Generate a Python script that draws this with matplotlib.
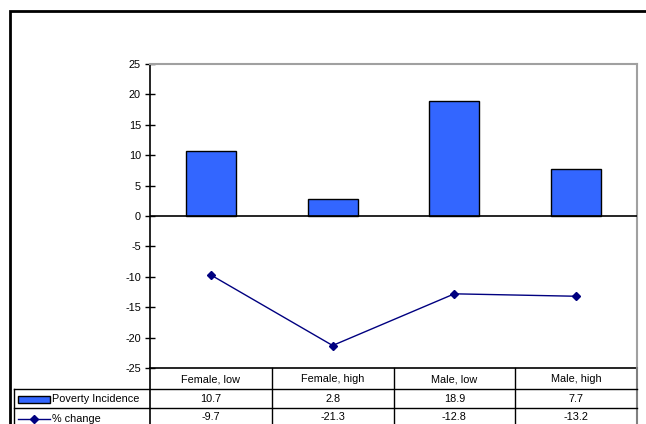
import numpy as np
import matplotlib.pyplot as plt

plt.rcParams['font.family'] = ['Liberation Sans', 'DejaVu Sans']
plt.rcParams['axes.unicode_minus'] = False

# data
categories = ['Female, low', 'Female, high', 'Male, low', 'Male, high']
poverty = [10.7, 2.8, 18.9, 7.7]
pct_change = [-9.7, -21.3, -12.8, -13.2]
bar_color = '#3366ff'
line_color = '#000080'

W, H = 646, 424
fs = 7.8
fig = plt.figure(figsize=(W / 100, H / 100), dpi=100)

# plot area in pixels
px_l, px_r, px_t, px_b = 150, 637, 64, 368
ax = fig.add_axes([px_l / W, (H - px_b) / H, (px_r - px_l) / W, (px_b - px_t) / H])

x = np.arange(len(categories))
ax.bar(x, poverty, width=0.41, color=bar_color, edgecolor='black', linewidth=1, zorder=3)
ax.plot(x, pct_change, color=line_color, linewidth=1, marker='D', markersize=4, zorder=4)
ax.axhline(0, color='black', linewidth=1.2, zorder=5)

ax.set_xlim(-0.5, len(categories) - 0.5)
ax.set_ylim(-25, 25)
ax.set_yticks(np.arange(-25, 26, 5))
ax.set_xticks([])
ax.tick_params(axis='y', direction='inout', length=7, width=1, labelsize=fs, pad=3)
ax.spines['left'].set_color('black')
ax.spines['left'].set_linewidth(1.2)
ax.spines['bottom'].set_color('black')
ax.spines['bottom'].set_linewidth(1.2)
ax.spines['top'].set_color('#a0a0a0')
ax.spines['right'].set_color('#a0a0a0')
ax.spines['top'].set_linewidth(1.5)
ax.spines['right'].set_linewidth(1.5)

# overlay in pixel coordinates for table and frame
ov = fig.add_axes([0, 0, 1, 1])
ov.set_xlim(0, W)
ov.set_ylim(H, 0)
ov.axis('off')
ov.patch.set_alpha(0)

# outer frame
ov.plot([10, 10, W], [H + 5, 11, 11], color='black', linewidth=2, solid_joinstyle='miter')

# table
n = len(categories)
col_w = (px_r - px_l) / n
edges = [px_l + i * col_w for i in range(n + 1)]
row_y = [px_b, 389, 408, H + 5]
lab_l = 14

for e in edges[1:-1]:
    ov.plot([e, e], [px_b, H + 5], color='black', linewidth=1)
ov.plot([px_l, px_l], [px_b, H + 5], color='black', linewidth=1.2)
ov.plot([px_r, px_r], [px_b, H + 5], color='#808080', linewidth=1.5)
ov.plot([lab_l, lab_l], [row_y[1], H + 5], color='black', linewidth=1)
ov.plot([lab_l, px_r], [row_y[1], row_y[1]], color='black', linewidth=1)
ov.plot([lab_l, px_r], [row_y[2], row_y[2]], color='black', linewidth=1)

for i, c in enumerate(categories):
    cx = (edges[i] + edges[i + 1]) / 2
    ov.text(cx, (row_y[0] + row_y[1]) / 2 + 1, c, ha='center', va='center', fontsize=fs)
    ov.text(cx, (row_y[1] + row_y[2]) / 2 + 1, f'{poverty[i]:.1f}', ha='center', va='center', fontsize=fs)
    ov.text(cx, 417, f'{pct_change[i]:.1f}', ha='center', va='center', fontsize=fs)

# legend keys in row labels
ky1 = (row_y[1] + row_y[2]) / 2 + 1
ov.add_patch(plt.Rectangle((18, ky1 - 3.5), 32, 7, facecolor=bar_color, edgecolor='black', linewidth=1))
ov.text(52, ky1, 'Poverty Incidence', ha='left', va='center', fontsize=fs)
ky2 = 419
ov.plot([18, 50], [ky2, ky2], color=line_color, linewidth=1)
ov.plot([34], [ky2], color=line_color, marker='D', markersize=4)
ov.text(52, ky2, '% change', ha='left', va='center', fontsize=fs)

fig.savefig('out.png', dpi=100)
